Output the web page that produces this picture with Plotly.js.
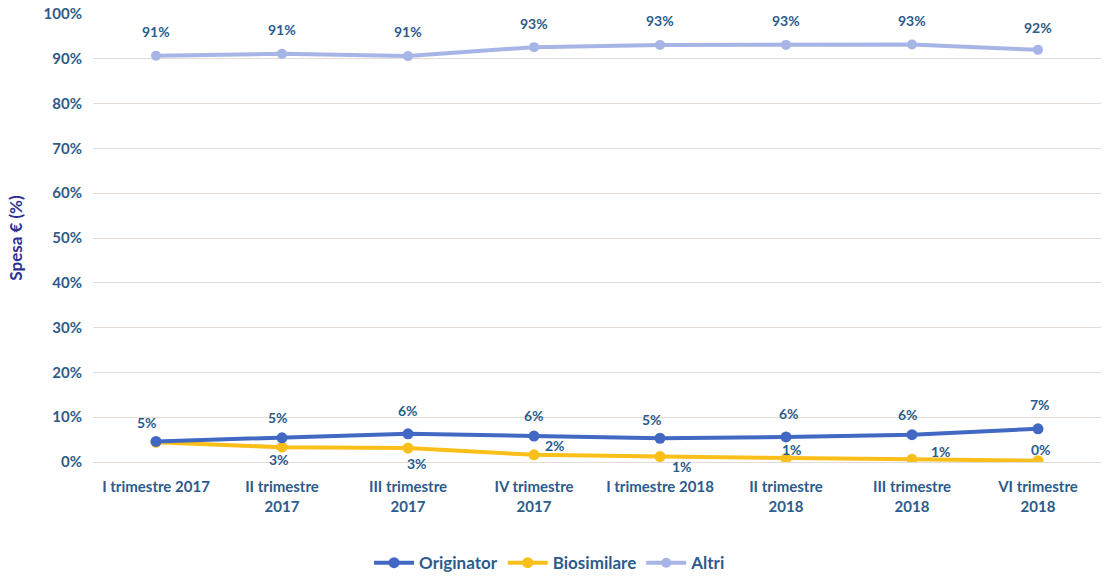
<!DOCTYPE html>
<html>
<head>
<meta charset="utf-8">
<script src="https://cdn.plot.ly/plotly-3.0.1.min.js"></script>
<style>html,body{margin:0;padding:0;background:#fff;}#chart{width:1109px;height:577px;}</style>
</head>
<body>
<div id="chart"></div>
<script>
const categories = ["I trimestre 2017", "II trimestre<br>2017", "III trimestre<br>2017", "IV trimestre<br>2017",
  "I trimestre 2018", "II trimestre<br>2018", "III trimestre<br>2018", "VI trimestre<br>2018"];
const originator = [4.6, 5.4, 6.3, 5.8, 5.3, 5.6, 6.1, 7.4];
const biosimilare = [4.4, 3.3, 3.1, 1.6, 1.2, 0.8, 0.6, 0.3];
const altri = [90.7, 91.1, 90.6, 92.6, 93.1, 93.1, 93.2, 92.0];
const yTicks = [0, 10, 20, 30, 40, 50, 60, 70, 80, 90, 100];

// data-label placement (pixel offsets from each point), styling only
const origLabelShift = [[-9, 19], [-4, 20], [0, 23], [0, 21], [-8, 19], [3, 23], [-4, 20], [2, 24]];
const bioLabelShift = [null, [-3, -12], [9, -15], [21, 9], [22, -10], [6, 9], [29, 8], [3, 11]];
const altriLabelShift = [[0, 24], [0, 24], [0, 25], [0, 24], [0, 24], [0, 24], [0, 24], [0, 22]];

const fmt = v => Math.round(v) + "%";
const FONT = "Lato, 'Open Sans', sans-serif";
const labelFont = {family: FONT, size: 14, color: "#2c5b8c", weight: 700};
const x = categories.map((c, i) => i);

const traces = [
  {name: "Altri", x: x, y: altri, type: "scatter", mode: "lines+markers",
   line: {color: "#a6b5e6", width: 4}, marker: {color: "#a6b5e6", size: 10}},
  {name: "Biosimilare", x: x, y: biosimilare, type: "scatter", mode: "lines+markers",
   line: {color: "#fbbf1a", width: 4}, marker: {color: "#fbbf1a", size: 11}},
  {name: "Originator", x: x, y: originator, type: "scatter", mode: "lines+markers",
   line: {color: "#4169c4", width: 4}, marker: {color: "#4169c4", size: 11}}
];

function labels(values, shifts) {
  const out = [];
  values.forEach((v, i) => {
    if (!shifts[i]) return;
    out.push({x: i, y: v, xref: "x", yref: "y", text: fmt(v), showarrow: false,
      xshift: shifts[i][0], yshift: shifts[i][1], font: labelFont});
  });
  return out;
}

const layout = {
  width: 1109, height: 577,
  margin: {l: 93, r: 8, t: 14, b: 115},
  paper_bgcolor: "#ffffff", plot_bgcolor: "#ffffff",
  font: {family: FONT, color: "#2c5b8c"},
  showlegend: true,
  legend: {
    orientation: "h", xref: "container", yref: "container",
    x: 0.496, xanchor: "center", y: 0.024, yanchor: "middle",
    font: {size: 17, color: "#2c5b8c", weight: 700}, traceorder: "reversed", itemwidth: 40
  },
  annotations: [].concat(labels(altri, altriLabelShift), labels(originator, origLabelShift), labels(biosimilare, bioLabelShift)),
  xaxis: {
    type: "linear", range: [-0.5, 7.5], tickmode: "array", tickvals: x, ticktext: categories,
    showgrid: false, zeroline: false, showline: false, ticks: "", ticklabelstandoff: 14, automargin: false,
    tickfont: {size: 15, color: "#2c5b8c", weight: 700}, fixedrange: true
  },
  yaxis: {
    range: [0, 100], tickmode: "array", tickvals: yTicks, ticktext: yTicks.map(v => v + "%"),
    showgrid: true, gridcolor: "#e3dbd6", gridwidth: 1, zeroline: true, zerolinecolor: "#e3dbd6",
    showline: false, ticks: "", ticklabelstandoff: 10, automargin: false,
    tickfont: {size: 15, color: "#2c5b8c", weight: 700},
    title: {text: "Spesa € (%)", font: {size: 17, color: "#2e3192", weight: 700}, standoff: 16},
    fixedrange: true
  }
};

Plotly.newPlot("chart", traces, layout, {displayModeBar: false, staticPlot: true});
</script>
</body>
</html>
